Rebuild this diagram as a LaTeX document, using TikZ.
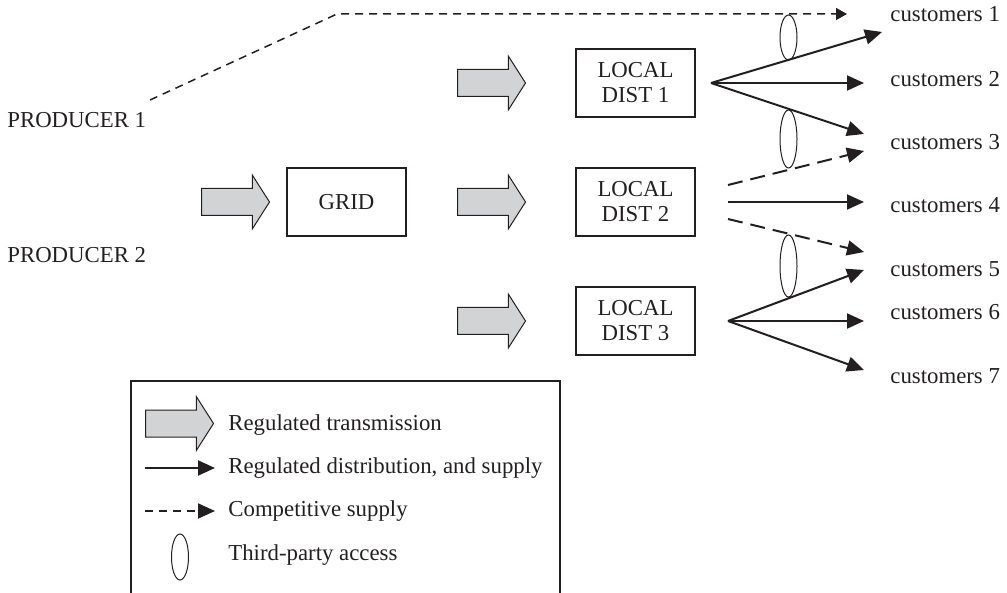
\documentclass[tikz,border=0pt]{standalone}
\usepackage{fontspec}
\setmainfont{Liberation Serif}
\usepackage{xcolor}
\usetikzlibrary{positioning,arrows.meta,shapes.arrows,shapes.geometric}
\definecolor{tinta}{HTML}{231F20}
\definecolor{relleno}{HTML}{D1D3D4}

\begin{document}
\begin{tikzpicture}[x=0.5pt, y=-0.5pt,
  every node/.style={font=\fontsize{11.4}{12.5}\selectfont, text=tinta},
  caja/.style={draw=tinta, line width=0.65pt, minimum width=59.5pt, minimum height=34pt, align=center, inner sep=0pt},
  trans/.style={single arrow, draw=tinta, fill=relleno, line width=0.5pt, minimum height=34pt, inner xsep=0pt, inner ysep=6.5pt, single arrow head extend=6.75pt, single arrow tip angle=115, anchor=tail},
  etq/.style={anchor=base west, inner sep=0pt},
  regul/.style={-{Triangle[length=8.5pt, width=7.5pt]}, line width=1pt, draw=tinta},
  compet/.style={regul, dash pattern=on 7.5pt off 4pt},
  compfina/.style={-{Triangle[length=5.5pt, width=6pt]}, line width=0.75pt, dash pattern=on 4pt off 3pt, draw=tinta},
  tpa/.style={ellipse, draw=tinta, line width=0.5pt, minimum width=8.5pt, inner sep=0pt}
]
\useasboundingbox (0,0) rectangle (1007,593);

% producers, grid and local distributors
\node[etq] (prod1) at (7,128) {PRODUCER 1};
\node[etq] (prod2) at (7,263) {PRODUCER 2};
\node[caja] (grid) at (346.5,202) {GRID};
\node[caja] (dist1) at (635.5,83) {LOCAL\\DIST 1};
\node[caja] (dist2) at (635.5,202) {LOCAL\\DIST 2};
\node[caja] (dist3) at (635.5,321) {LOCAL\\DIST 3};

% transmission arrows
\node[trans] (tgrid) at (201,202) {};
\node[trans] (tdist1) at (457,83) {};
\node[trans] (tdist2) at (457,202) {};
\node[trans] (tdist3) at (457,321) {};

% customers
\node[etq] (cust1) at (890,22) {customers 1};
\node[etq] (cust2) at (890,87) {customers 2};
\node[etq] (cust3) at (890,150) {customers 3};
\node[etq] (cust4) at (890,213) {customers 4};
\node[etq] (cust5) at (890,277) {customers 5};
\node[etq] (cust6) at (890,320) {customers 6};
\node[etq] (cust7) at (890,383) {customers 7};

% start and end points of the supply lines
\coordinate (sal0) at (150,100);
\coordinate (codo) at (337,14);
\coordinate (sal1) at (711,83);
\coordinate (sal2a) at (728,185);
\coordinate (sal2b) at (728,202);
\coordinate (sal2c) at (728,219);
\coordinate (sal3) at (728,321);
\coordinate (fin0) at (847,14);
\coordinate (fin1) at (882,32);
\coordinate (fin2) at (864,83);
\coordinate (fin3) at (864,134);
\coordinate (fin3b) at (864,151);
\coordinate (fin4) at (864,202);
\coordinate (fin5a) at (864,252);
\coordinate (fin5) at (864,270);
\coordinate (fin6) at (864,321);
\coordinate (fin7) at (864,370);

\draw[compfina] (sal0) -- (codo) -- (fin0);
\draw[regul] (sal1) -- (fin1);
\draw[regul] (sal1) -- (fin2);
\draw[regul] (sal1) -- (fin3);
\draw[compet] (sal2a) -- (fin3b);
\draw[regul] (sal2b) -- (fin4);
\draw[compet] (sal2c) -- (fin5a);
\draw[regul] (sal3) -- (fin5);
\draw[regul] (sal3) -- (fin6);
\draw[regul] (sal3) -- (fin7);

% third-party access
\node[tpa, minimum height=22.5pt] (acc1) at (788.5,37.5) {};
\node[tpa, minimum height=29pt] (acc2) at (788.5,139) {};
\node[tpa, minimum height=31pt] (acc3) at (788.5,266) {};

% legend
\draw[draw=tinta, line width=0.6pt] (131,600) |- (560,381) -- (560,600);
\node[trans] (lgflecha) at (145,423.5) {};
\coordinate (lgsol0) at (145,468);
\coordinate (lgsol1) at (215,468);
\coordinate (lgcom0) at (145,511);
\coordinate (lgcom1) at (215,511);
\draw[regul] (lgsol0) -- (lgsol1);
\draw[regul, dash pattern=on 4pt off 3pt] (lgcom0) -- (lgcom1);
\node[tpa, minimum height=23pt] (lgacc) at (180,557) {};
\node[etq] (lgtrans) at (228,430) {Regulated transmission};
\node[etq] (lgdist) at (228,473) {Regulated distribution, and supply};
\node[etq] (lgcomp) at (228,516) {Competitive supply};
\node[etq] (lgtpa) at (228,560) {Third-party access};
\end{tikzpicture}
\end{document}
